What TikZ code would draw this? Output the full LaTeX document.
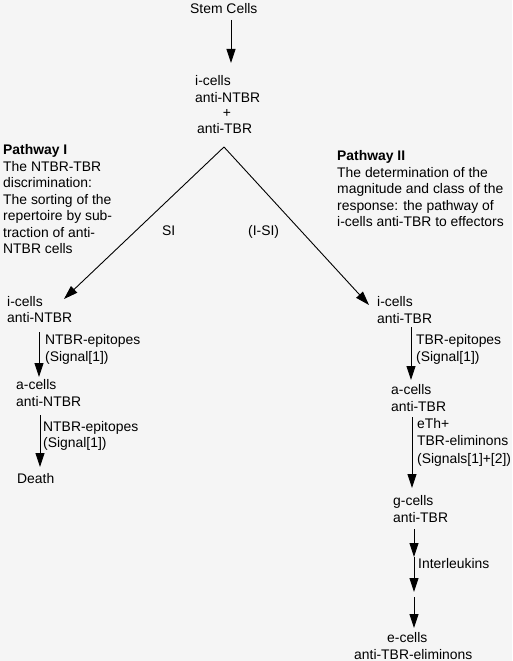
\documentclass[tikz,border=0pt]{standalone}
\usepackage{fontspec}
\setmainfont{Liberation Sans}
\usetikzlibrary{arrows.meta}
\begin{document}
\begin{tikzpicture}[x=1pt,y=-1pt,
  txt/.style={anchor=base west,inner sep=0pt,align=left,
    font=\fontsize{13.9}{16.5}\selectfont},
  arr/.style={line width=0.9pt,-{Triangle[length=14pt,width=9pt]}},
  ln/.style={line width=0.9pt}]
\fill[white!96!black] (0,0) rectangle (512,661);
\useasboundingbox (0,0) rectangle (512,661);
% top (multi-line nodes are placed by the baseline of their last line)
\node[txt] (stem) at (190,13.5) {Stem Cells};
\node[txt] (ic) at (195,102) {i-cells\\anti-NTBR};
\node[txt,anchor=base] (plus) at (227,117.5) {+};
\node[txt] (atbr) at (197,133.5) {anti-TBR};
\coordinate (s0) at (231,20);
\coordinate (s1) at (231,63);
\draw[arr] (s0) -- (s1);
% V
\coordinate (apex) at (224,147);
\coordinate (lt) at (64,299);
\coordinate (rt) at (369,305);
\draw[arr] (apex) -- (lt);
\draw[arr] (apex) -- (rt);
\node[txt] (si) at (162,235) {SI};
\node[txt] (isi) at (248,235) {(I-SI)};
% pathway texts
\node[txt] (p1) at (3,253.5) {\textbf{Pathway I}\\The NTBR-TBR\\discrimination:\\The sorting of the\\repertoire by sub-\\traction of anti-\\NTBR cells};
\node[txt] (p2) at (337,226.5) {\textbf{Pathway II}\\The determination of the\\magnitude and class of the\\response: the pathway of\\i-cells anti-TBR to effectors};
% left branch
\node[txt] (li) at (7,322.5) {i-cells\\anti-NTBR};
\coordinate (l1a) at (39,332);
\coordinate (l1b) at (39,377);
\draw[arr] (l1a) -- (l1b);
\node[txt] (ll1) at (45,361) {NTBR-epitopes\\(Signal[1])};
\node[txt] (la) at (16,406) {a-cells\\anti-NTBR};
\coordinate (l2a) at (40,415);
\coordinate (l2b) at (40,467);
\draw[arr] (l2a) -- (l2b);
\node[txt] (ll2) at (43,447.5) {NTBR-epitopes\\(Signal[1])};
\node[txt] (death) at (17,483) {Death};
% right branch
\node[txt] (ri) at (377,323) {i-cells\\anti-TBR};
\coordinate (r1a) at (411,327);
\coordinate (r1b) at (411,380);
\draw[arr] (r1a) -- (r1b);
\node[txt] (rl1) at (416,361) {TBR-epitopes\\(Signal[1])};
\node[txt] (ra) at (391,411) {a-cells\\anti-TBR};
\coordinate (r2a) at (412,417);
\coordinate (r2b) at (412,488);
\draw[arr] (r2a) -- (r2b);
\node[txt,font=\fontsize{13.9}{17.5}\selectfont] (rl2) at (417,463) {eTh+\\TBR-eliminons\\(Signals[1]+[2])};
\node[txt] (rg) at (393,522) {g-cells\\anti-TBR};
\coordinate (r3a) at (414,529);
\coordinate (r3b) at (414,557);
\coordinate (r3c) at (414,592);
\coordinate (r3d) at (414,597);
\coordinate (r3e) at (414,628);
\draw[arr] (r3a) -- (r3b);
\draw[arr] (r3b) -- (r3c);
\draw[arr] (r3d) -- (r3e);
\node[txt] (il) at (418,568) {Interleukins};
\node[txt] (re) at (387,642) {e-cells};
\node[txt] (rel) at (354,659) {anti-TBR-eliminons};
\end{tikzpicture}
\end{document}
